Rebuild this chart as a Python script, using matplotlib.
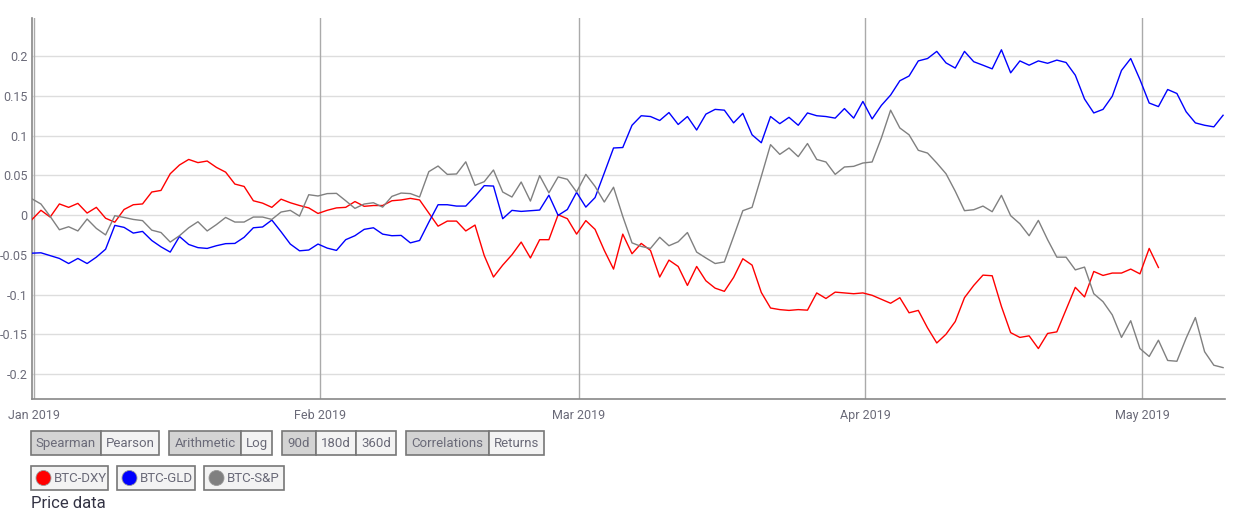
import matplotlib
matplotlib.use("Agg")
import matplotlib.pyplot as plt
import matplotlib.dates as mdates
from matplotlib.patches import Rectangle, Circle
import pandas as pd

plt.rcParams['font.family'] = ['Roboto', 'DejaVu Sans']

# daily correlation values, starting at the first day of 2019
btc_dxy = [-0.006, 0.006, -0.0025, 0.014, 0.0097, 0.0147, 0.0025, 0.0097, -0.004, -0.009,
           0.007, 0.013, 0.014, 0.029, 0.031, 0.052, 0.063, 0.070, 0.066, 0.068,
           0.060, 0.054, 0.039, 0.036, 0.018, 0.015, 0.0097, 0.020, 0.0155, 0.012,
           0.009, 0.002, 0.006, 0.009, 0.0097, 0.017, 0.011, 0.012, 0.012, 0.018,
           0.019, 0.021, 0.019, 0.0025, -0.014, -0.0076, -0.0076, -0.020, -0.0126, -0.051,
           -0.078, -0.063, -0.050, -0.034, -0.054, -0.031, -0.031, 0.0004, -0.0046, -0.024,
           -0.007, -0.018, -0.0445, -0.068, -0.024, -0.0487, -0.0357, -0.0445, -0.078, -0.0567,
           -0.0647, -0.0886, -0.0647, -0.0827, -0.092, -0.096, -0.0785, -0.055, -0.063, -0.0974,
           -0.117, -0.119, -0.120, -0.119, -0.1197, -0.098, -0.105, -0.097, -0.098, -0.099,
           -0.098, -0.101, -0.106, -0.111, -0.104, -0.123, -0.120, -0.142, -0.161, -0.150,
           -0.134, -0.104, -0.0886, -0.0756, -0.0764, -0.115, -0.148, -0.154, -0.152, -0.168,
           -0.149, -0.147, -0.119, -0.091, -0.103, -0.071, -0.076, -0.073, -0.073, -0.068,
           -0.074, -0.042, -0.066]

btc_gld = [-0.048, -0.0475, -0.051, -0.0546, -0.061, -0.0546, -0.061, -0.053, -0.043, -0.013,
           -0.0155, -0.0227, -0.0206, -0.032, -0.040, -0.0466, -0.027, -0.037, -0.041, -0.042,
           -0.0386, -0.036, -0.0357, -0.028, -0.016, -0.015, -0.0063, -0.021, -0.0365, -0.045,
           -0.044, -0.0365, -0.0416, -0.0445, -0.031, -0.026, -0.018, -0.016, -0.024, -0.026,
           -0.0256, -0.035, -0.032, -0.009, 0.013, 0.013, 0.0113, 0.0113, 0.0235, 0.037,
           0.0365, -0.0046, 0.0059, 0.0046, 0.0055, 0.0063, 0.025, -0.0004, 0.007, 0.0286,
           0.010, 0.022, 0.053, 0.0844, 0.085, 0.113, 0.125, 0.124, 0.119, 0.129,
           0.114, 0.124, 0.107, 0.127, 0.133, 0.132, 0.116, 0.128, 0.101, 0.091,
           0.124, 0.115, 0.123, 0.113, 0.1285, 0.125, 0.124, 0.122, 0.134, 0.122,
           0.143, 0.121, 0.138, 0.151, 0.169, 0.175, 0.194, 0.197, 0.206, 0.1915,
           0.185, 0.206, 0.193, 0.1886, 0.184, 0.208, 0.179, 0.194, 0.1886, 0.194,
           0.191, 0.195, 0.192, 0.176, 0.146, 0.1285, 0.133, 0.1495, 0.182, 0.197,
           0.1705, 0.141, 0.1365, 0.158, 0.153, 0.130, 0.116, 0.113, 0.111, 0.1256]

btc_sp = [0.0206, 0.0139, -0.0017, -0.0185, -0.0147, -0.020, -0.005, -0.0168, -0.025, -0.0008,
          -0.003, -0.0055, -0.007, -0.019, -0.022, -0.034, -0.026, -0.016, -0.0084, -0.020,
          -0.012, -0.003, -0.0088, -0.0088, -0.0025, -0.0025, -0.0055, 0.0038, 0.0059, -0.0013,
          0.0256, 0.024, 0.027, 0.0273, 0.018, 0.0084, 0.0139, 0.0155, 0.010, 0.0235,
          0.0277, 0.027, 0.0227, 0.0546, 0.0617, 0.0512, 0.0517, 0.067, 0.0374, 0.042,
          0.0567, 0.029, 0.0227, 0.0416, 0.0176, 0.0496, 0.028, 0.048, 0.045, 0.029,
          0.0512, 0.036, 0.0164, 0.035, -0.0017, -0.035, -0.0395, -0.042, -0.028, -0.0386,
          -0.0336, -0.022, -0.0466, -0.054, -0.061, -0.059, -0.027, 0.0055, 0.0097, 0.0487,
          0.0886, 0.0764, 0.0844, 0.0735, 0.090, 0.070, 0.0668, 0.0512, 0.0605, 0.0613,
          0.0655, 0.0668, 0.097, 0.132, 0.1096, 0.101, 0.0815, 0.078, 0.0655, 0.052,
          0.030, 0.0055, 0.0067, 0.0113, 0.0042, 0.0248, -0.0008, -0.011, -0.026, -0.0067,
          -0.031, -0.053, -0.053, -0.069, -0.0655, -0.099, -0.109, -0.1256, -0.154, -0.133,
          -0.168, -0.178, -0.1575, -0.183, -0.184, -0.155, -0.129, -0.172, -0.189, -0.192]

series_names = ['BTC-DXY', 'BTC-GLD', 'BTC-S&P']
series_colors = ['#ff0000', '#0000ff', '#808080']
yticks = [-0.2, -0.15, -0.1, -0.05, 0, 0.05, 0.1, 0.15, 0.2]
ytick_labels = ['-0.2', '-0.15', '-0.1', '-0.05', '0', '0.05', '0.1', '0.15', '0.2']
month_starts = pd.to_datetime(['2019-01-01', '2019-02-01', '2019-03-01', '2019-04-01', '2019-05-01'])

button_groups = [
    [('Spearman', True), ('Pearson', False)],
    [('Arithmetic', True), ('Log', False)],
    [('90d', True), ('180d', False), ('360d', False)],
    [('Correlations', True), ('Returns', False)],
]
# pixel widths of the buttons, per group
button_widths = [[70, 58], [72, 31], [34, 40, 40], [83, 55]]
legend_widths = [77, 78, 80]

W, H = 1255, 517
TXT = '#6a6a78'
fig = plt.figure(figsize=(W / 100, H / 100), dpi=100)
ax = fig.add_axes([31.7 / W, 1 - 399 / H, (1225 - 31.7) / W, (399 - 18) / H])

# series timestamps sit a few hours before midnight
dates = pd.date_range('2018-12-31 18:00', periods=len(btc_gld), freq='D')
for vals, col in zip([btc_dxy, btc_gld, btc_sp], series_colors):
    ax.plot(dates[:len(vals)], vals, color=col, lw=1.0, zorder=3)

ax.set_xlim(dates[0], dates[-1] + pd.Timedelta(hours=5))
ax.set_ylim(-0.2315, 0.248)

ax.set_yticks(yticks)
ax.set_yticklabels(ytick_labels)
ax.set_xticks(month_starts)
ax.xaxis.set_major_formatter(mdates.DateFormatter('%b %Y'))
ax.tick_params(axis='both', length=0, labelsize=9, labelcolor=TXT)
ax.tick_params(axis='y', pad=3)
ax.tick_params(axis='x', pad=7)

for y in yticks:
    ax.axhline(y, color='#dddddd', lw=1, zorder=1)
for d in month_starts:
    ax.axvline(d, color='#aaaaaa', lw=1, zorder=2)

for s in ['top', 'right']:
    ax.spines[s].set_visible(False)
for s in ['left', 'bottom']:
    ax.spines[s].set_color('#888888')
    ax.spines[s].set_linewidth(1.2)

# control widgets below the chart, drawn in pixel coordinates
ov = fig.add_axes([0, 0, 1, 1])
ov.set_xlim(0, W)
ov.set_ylim(H, 0)
ov.axis('off')

btn_h = 24
x = 31
y0 = 431
for group, widths in zip(button_groups, button_widths):
    for (label, sel), w in zip(group, widths):
        ov.add_patch(Rectangle((x, y0), w, btn_h, facecolor='#d3d3d3' if sel else '#f3f3f3',
                               edgecolor='#777777', lw=1.2))
        ov.text(x + w / 2, y0 + btn_h / 2 + 0.5, label, fontsize=9.5, color=TXT,
                ha='center', va='center')
        x += w
    x += 10

x = 31
y1 = 466
for name, col, w in zip(series_names, series_colors, legend_widths):
    ov.add_patch(Rectangle((x, y1), w, btn_h, facecolor='#f3f3f3', edgecolor='#777777', lw=1.2))
    ov.add_patch(Circle((x + 12.5, y1 + btn_h / 2), 7.5, facecolor=col, edgecolor='#999999', lw=0.6))
    ov.text(x + 23, y1 + btn_h / 2 + 0.5, name, fontsize=9.5, color=TXT, ha='left', va='center')
    x += w + 9

ov.text(31, 504, 'Price data', fontsize=12, color='#333344', ha='left', va='center')

fig.savefig('out.png', dpi=100)
